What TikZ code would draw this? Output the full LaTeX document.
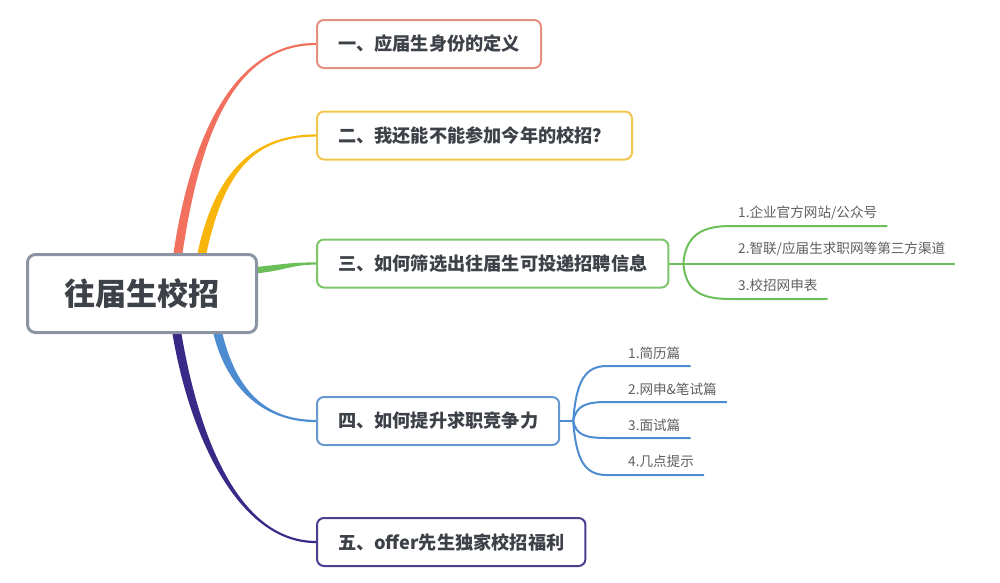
\documentclass[tikz,border=0pt]{standalone}
\usepackage{fontspec}
\setmainfont{Noto Sans CJK SC}
\usetikzlibrary{calc, backgrounds}

\definecolor{ink}{HTML}{3D4148}
\definecolor{leafink}{HTML}{5E5E5E}
\definecolor{rootline}{HTML}{8A94A3}
\definecolor{redA}{HTML}{F2705E}
\definecolor{redB}{HTML}{E6907F}
\definecolor{yelA}{HTML}{F8B60B}
\definecolor{yelB}{HTML}{F0C64E}
\definecolor{grnA}{HTML}{6CBF58}
\definecolor{grnB}{HTML}{7DC46B}
\definecolor{bluA}{HTML}{4E8CD2}
\definecolor{bluB}{HTML}{6598CF}
\definecolor{purA}{HTML}{3A2A87}
\definecolor{purB}{HTML}{4B3E8F}

% tapered branch: colour, start, half-width at start, control 1, control 2, end
\newcommand{\limb}[6]{%
  \fill[#1] ($(#2)+(#3)$) .. controls ($(#4)+(#3)$) and ($(#5)+(0,1.1)$) .. ($(#6)+(0,1.1)$)
    -- ($(#6)-(0,1.1)$) .. controls ($(#5)-(0,1.1)$) and ($(#4)-(#3)$) .. ($(#2)-(#3)$) -- cycle;}

\begin{document}
\begin{tikzpicture}[x=1pt, y=1pt,
    rootbox/.style={draw=rootline, line width=3pt, rounded corners=8pt, fill=white,
      minimum width=229pt, minimum height=78pt, text=ink,
      font=\fontsize{31}{36}\selectfont\bfseries},
    topic/.style={draw=#1, line width=2pt, rounded corners=7pt, fill=white, anchor=west,
      minimum height=48pt, inner xsep=21pt, text=ink,
      font=\fontsize{18.2}{22}\selectfont\bfseries},
    leaf/.style={anchor=base west, inner xsep=10pt, inner ysep=0pt, text=leafink,
      font=\fontsize{13.6}{16}\selectfont},
    twig/.style={draw=#1, line width=2pt}]
    \useasboundingbox (0,0) rectangle (1000,-582);

    \node[rootbox] (root) at (142,-293.5) {往届生校招};
    \node[topic=redB] (b1) at (316,-44) {一、应届生身份的定义};
    \node[topic=yelB] (b2) at (316,-135.5) {二、我还能不能参加今年的校招？};
    \node[topic=grnB] (b3) at (316,-263.5) {三、如何筛选出往届生可投递招聘信息};
    \node[topic=bluB] (b4) at (316,-421) {四、如何提升求职竞争力};
    \node[topic=purB] (b5) at (316,-542) {五、offer先生独家校招福利};

    \coordinate (r1) at ([xshift=36pt]root.north);
    \coordinate (r2) at ([xshift=60pt]root.north);
    \coordinate (r3) at ([yshift=23.5pt]root.east);
    \coordinate (r4) at ([xshift=76pt]root.south);
    \coordinate (r5) at ([xshift=35pt]root.south);
    \begin{scope}[on background layer]
    \limb{redA}{r1}{-4.5,0}{195,-140}{232,-44}{b1.west}
    \limb{yelA}{r2}{-4.5,0}{220,-170}{255,-135.5}{b2.west}
    \limb{grnA}{r3}{0,3.2}{286,-267}{292,-263.5}{b3.west}
    \limb{bluA}{r4}{4.5,0}{232,-390}{265,-421}{b4.west}
    \limb{purA}{r5}{4.5,0}{195,-440}{240,-542}{b5.west}
    \end{scope}

    % sub-items of the third topic
    \coordinate (j3) at ([xshift=14pt]b3.east);
    \node[leaf] (g1) at (728,-217) {1.企业官方网站/公众号};
    \node[leaf] (g2) at (728,-253) {2.智联/应届生求职网等第三方渠道};
    \node[leaf] (g3) at (728,-290) {3.校招网申表};
    \coordinate (u1) at (730,-226);
    \coordinate (u3) at (730,-299);
    \draw[twig=grnA] (b3.east) -- (j3);
    \draw[twig=grnA] (j3) .. controls +(2,28) and +(-28,0) .. (u1) -- (u1 -| g1.east);
    \draw[twig=grnA] (j3) -- (j3 -| g2.east);
    \draw[twig=grnA] (j3) .. controls +(2,-28) and +(-28,0) .. (u3) -- (u3 -| g3.east);

    % sub-items of the fourth topic
    \coordinate (j4) at ([xshift=13pt]b4.east);
    \node[leaf] (h1) at (618,-358) {1.简历篇};
    \node[leaf] (h2) at (618,-394) {2.网申\&笔试篇};
    \node[leaf] (h3) at (618,-430) {3.面试篇};
    \node[leaf] (h4) at (618,-466) {4.几点提示};
    \coordinate (v1) at (607,-366);
    \coordinate (v2) at (607,-402);
    \coordinate (v3) at (607,-438);
    \coordinate (v4) at (607,-475);
    \draw[twig=bluA] (b4.east) -- (j4);
    \foreach \n/\d in {1/40, 2/15, 3/-14, 4/-40}
      \draw[twig=bluA] (j4) .. controls +(3,\d) and +(-22,0) .. (v\n) -- (v\n -| h\n.east);
\end{tikzpicture}
\end{document}
